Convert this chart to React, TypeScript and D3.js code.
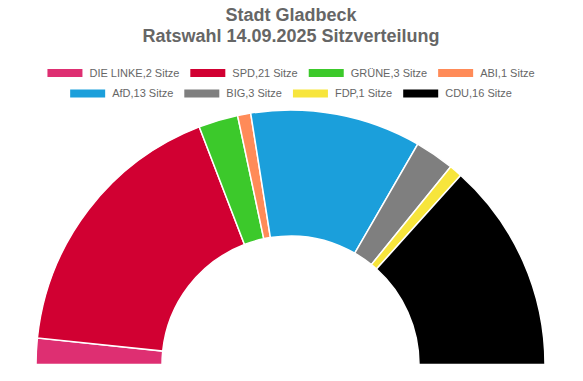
import React, { useMemo } from "react";
import * as d3 from "d3";

const parties = ["DIE LINKE", "SPD", "GRÜNE", "ABI", "AfD", "BIG", "FDP", "CDU"];
const seats = [2, 21, 3, 1, 13, 3, 1, 16];
const colors = ["#de2f72", "#d10032", "#3cc92b", "#ff8b58", "#1b9fdb", "#7f7f7f", "#f7e53c", "#000000"];
const legendRows = [[0, 1, 2, 3], [4, 5, 6, 7]];

const W = 583;
const H = 381;

function measure(text: string, font: string): number {
  const c = document.createElement("canvas").getContext("2d");
  if (!c) return text.length * 6;
  c.font = font;
  return c.measureText(text).width;
}

export default function App() {
  const cx = 290.5;
  const cy = 364.5;
  const outerR = 254.5;
  const innerR = 128.5;

  const arcs = useMemo(() => {
    const pie = d3
      .pie<number>()
      .sort(null)
      .startAngle(-Math.PI / 2)
      .endAngle(Math.PI / 2)
      .value((d) => d);
    return pie(seats);
  }, []);
  const arcGen = d3.arc<d3.PieArcDatum<number>>().innerRadius(innerR).outerRadius(outerR);

  const legendFont = "11px 'Liberation Sans', Arial, sans-serif";
  const swW = 35;
  const swH = 8;
  const txtGap = 7;
  const itemGap = 11;
  const legendCenter = 291;
  const rowY = [73, 93.5];

  const labels = parties.map((p, i) => `${p},${seats[i]} Sitze`);

  const legendItems: JSX.Element[] = [];
  legendRows.forEach((row, ri) => {
    const widths = row.map((i) => swW + txtGap + measure(labels[i], legendFont));
    const total = widths.reduce((a, b) => a + b, 0) + itemGap * (row.length - 1);
    let x = legendCenter - total / 2;
    row.forEach((i, k) => {
      legendItems.push(
        <g key={i} transform={`translate(${x},${rowY[ri]})`}>
          <rect x={0} y={-swH / 2} width={swW} height={swH} fill={colors[i]} />
          <text
            x={swW + txtGap}
            y={0}
            dy="0.35em"
            fontFamily="'Liberation Sans', Arial, sans-serif"
            fontSize={11}
            fill="#666"
          >
            {labels[i]}
          </text>
        </g>
      );
      x += widths[k] + itemGap;
    });
  });

  return (
    <svg
      width={W}
      height={H}
      style={{ position: "absolute", left: 0, top: 0, background: "#fff" }}
    >
      <rect width={W} height={H} fill="#fff" />
      <text
        x={291}
        y={21}
        textAnchor="middle"
        fontFamily="'Liberation Sans', Arial, sans-serif"
        fontWeight="bold"
        fontSize={18}
        fill="#666"
      >
        Stadt Gladbeck
      </text>
      <text
        x={291}
        y={42}
        textAnchor="middle"
        fontFamily="'Liberation Sans', Arial, sans-serif"
        fontWeight="bold"
        fontSize={18}
        fill="#666"
      >
        Ratswahl 14.09.2025 Sitzverteilung
      </text>
      {legendItems}
      <g transform={`translate(${cx},${cy})`}>
        {arcs.map((a, i) => (
          <path key={i} d={arcGen(a) || ""} fill={colors[i]} stroke="#fff" strokeWidth={1.5} />
        ))}
      </g>
    </svg>
  );
}
